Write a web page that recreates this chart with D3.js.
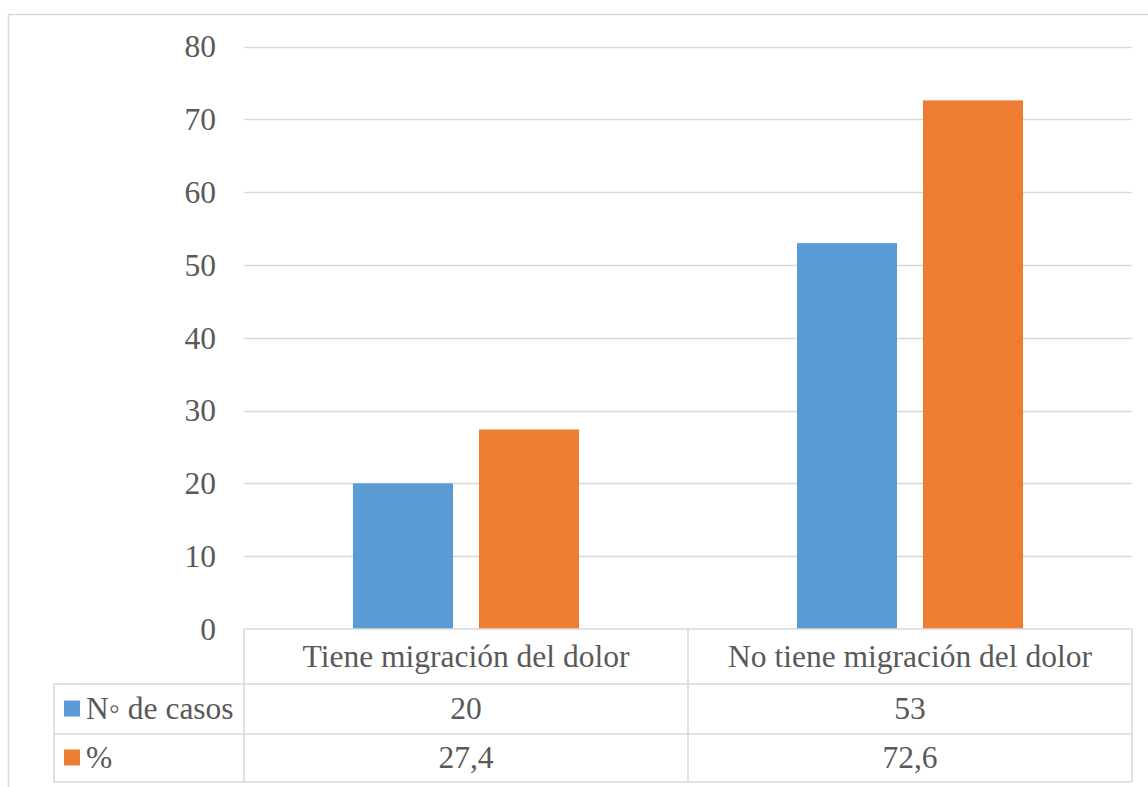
<!DOCTYPE html>
<html>
<head>
<meta charset="utf-8">
<script src="https://cdn.jsdelivr.net/npm/d3@7"></script>
<style>
html,body{margin:0;padding:0;background:#fff;}
svg{display:block;}
text{font-family:"Liberation Serif","Times New Roman",serif;fill:#595959;}
</style>
</head>
<body>
<svg id="chart" width="1148" height="787"></svg>
<script>
const categories = ["Tiene migración del dolor", "No tiene migración del dolor"];
const seriesNames = ["N\u25E6 de casos", "%"];
const casos = [20, 53];
const pct = [27.4, 72.6];
const pctLabels = ["27,4", "72,6"];
const casosLabels = ["20", "53"];
const yTicks = [0, 10, 20, 30, 40, 50, 60, 70, 80];
const colors = ["#5B9BD5", "#ED7D31"];

(function () {
const series = [
  {name: seriesNames[0], values: casos, labels: casosLabels, color: colors[0]},
  {name: seriesNames[1], values: pct, labels: pctLabels, color: colors[1]}
];

const svg = d3.select("#chart");
const fs = 31.5;
const pLeft = 244, pRight = 1132, pTop = 46.5, pBottom = 629;

// outer border
svg.append("rect").attr("x", 8.5).attr("y", 14.5).attr("width", 1160).attr("height", 800)
  .attr("fill", "none").attr("stroke", "#d9d9d9").attr("stroke-width", 1.5);

const y = d3.scaleLinear().domain([0, 80]).range([pBottom, pTop]);
const x0 = d3.scaleBand().domain(categories).range([pLeft, pRight]).paddingInner(0).paddingOuter(0);
const x1 = d3.scaleBand().domain(seriesNames).range([109, 335]).paddingInner(0.206).paddingOuter(0);

// gridlines
svg.append("g").selectAll("line").data(yTicks.filter(d => d > 0)).join("line")
  .attr("x1", pLeft).attr("x2", pRight)
  .attr("y1", d => Math.round(y(d)) + 0.5).attr("y2", d => Math.round(y(d)) + 0.5)
  .attr("stroke", "#d9d9d9").attr("stroke-width", 1.5);

// y axis labels
const yAxis = d3.axisLeft(y).tickValues(yTicks).tickSize(0).tickPadding(0);
const ga = svg.append("g").attr("transform", `translate(216,0)`).call(yAxis);
ga.select(".domain").remove();
ga.selectAll("text").attr("font-size", fs).attr("font-family", "Liberation Serif").attr("fill", "#595959").attr("dy", "0.33em");

// bars
const g = svg.append("g");
series.forEach(s => {
  g.selectAll(null).data(categories).join("rect")
    .attr("x", c => x0(c) + x1(s.name))
    .attr("width", x1.bandwidth())
    .attr("y", (c, i) => y(s.values[i]))
    .attr("height", (c, i) => y(0) - y(s.values[i]))
    .attr("fill", s.color);
});

// data table
const rowY = [629, 684, 734, 782];
const tbl = svg.append("g").attr("stroke", "#d9d9d9").attr("stroke-width", 1.5);
tbl.append("line").attr("x1", pLeft).attr("x2", pRight).attr("y1", rowY[0]).attr("y2", rowY[0]);
for (let r = 1; r < 4; r++) {
  tbl.append("line").attr("x1", 54).attr("x2", pRight).attr("y1", rowY[r]).attr("y2", rowY[r]);
}
tbl.append("line").attr("x1", 54).attr("x2", 54).attr("y1", rowY[1]).attr("y2", rowY[3]);
[pLeft, x0(categories[1]), pRight].forEach(xx => {
  tbl.append("line").attr("x1", xx).attr("x2", xx).attr("y1", rowY[0]).attr("y2", rowY[3]);
});

// header text
svg.append("g").selectAll("text").data(categories).join("text")
  .attr("x", c => x0(c) + x0.bandwidth() / 2)
  .attr("y", (rowY[0] + rowY[1]) / 2)
  .attr("dy", "0.33em")
  .attr("text-anchor", "middle").attr("font-size", fs)
  .text(c => c);

// value rows
series.forEach((s, si) => {
  const cy = (rowY[si + 1] + rowY[si + 2]) / 2;
  svg.append("g").selectAll("text").data(categories).join("text")
    .attr("x", c => x0(c) + x0.bandwidth() / 2)
    .attr("y", cy).attr("dy", "0.33em")
    .attr("text-anchor", "middle").attr("font-size", fs)
    .text((c, i) => s.labels[i]);
  svg.append("rect").attr("x", 64).attr("y", cy - 8.5).attr("width", 16).attr("height", 16).attr("fill", s.color);
  svg.append("text").attr("x", 86).attr("y", cy).attr("dy", "0.33em").attr("font-size", fs).text(s.name);
});
})();
</script>
</body>
</html>
